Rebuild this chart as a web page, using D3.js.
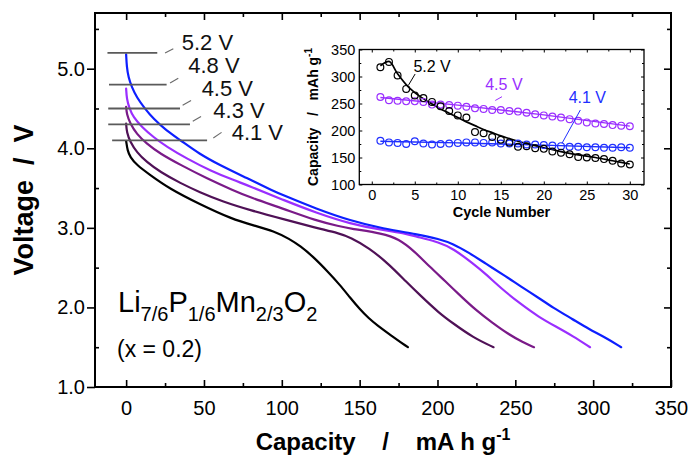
<!DOCTYPE html>
<html><head><meta charset="utf-8">
<script src="https://cdn.jsdelivr.net/npm/d3@7"></script>
<style>
html,body{margin:0;padding:0;background:#fff;}
svg{display:block;font-family:"Liberation Sans",Arial,sans-serif;}
text{white-space:pre;}
</style></head><body>
<svg id="chart" width="688" height="458"></svg>
<script>
// ---------------- DATA ----------------
// Discharge curves (capacity mA h g^-1, voltage V) for each upper cutoff voltage
const cap41 = [0, 0.9, 2.6, 6.8, 15, 28, 47, 68, 82, 95, 105, 112, 120, 130, 137, 144, 150, 156, 161, 170, 181];
const volt41 = [4.09, 3.97, 3.89, 3.79, 3.67, 3.49, 3.30, 3.11, 3.03, 2.96, 2.86, 2.77, 2.64, 2.44, 2.29, 2.12, 1.98, 1.86, 1.78, 1.65, 1.50];

const cap43 = [0, 0.4, 2.6, 6.8, 13, 22, 35, 47, 62, 80, 101, 122, 137, 144, 156, 169, 180, 189, 201, 210, 223, 236];
const volt43 = [4.31, 4.20, 4.08, 3.95, 3.83, 3.70, 3.56, 3.45, 3.33, 3.22, 3.11, 3.00, 2.93, 2.88, 2.75, 2.54, 2.32, 2.15, 1.93, 1.80, 1.62, 1.50];

const cap45 = [0, 0.4, 2.6, 6.8, 13, 22, 35, 52, 69, 80, 101, 122, 137, 144, 165, 175, 185, 195, 205, 215, 225, 235, 245, 255, 262];
const volt45 = [4.52, 4.43, 4.31, 4.18, 4.06, 3.93, 3.79, 3.62, 3.47, 3.38, 3.24, 3.09, 3.02, 2.99, 2.93, 2.86, 2.71, 2.51, 2.33, 2.14, 1.96, 1.81, 1.67, 1.56, 1.50];

const cap48 = [0, 0.4, 2.1, 4.7, 10, 17.5, 26, 39, 54, 69, 80, 101, 122, 144, 165, 180, 188, 201, 210, 223, 231, 242, 253, 265, 276, 287, 298];
const volt48 = [4.75, 4.62, 4.50, 4.39, 4.27, 4.14, 4.02, 3.87, 3.72, 3.60, 3.52, 3.35, 3.19, 3.05, 2.97, 2.93, 2.88, 2.82, 2.74, 2.55, 2.42, 2.22, 2.05, 1.88, 1.76, 1.64, 1.50];

const cap52 = [0, 0.4, 1.5, 3.6, 6.8, 12, 17.5, 26, 35, 47, 60, 77, 95, 101, 122, 144, 165, 187, 201, 210, 220, 231, 244, 253, 265, 274, 287, 297, 308, 318];
const volt52 = [5.18, 5.02, 4.89, 4.77, 4.64, 4.50, 4.37, 4.22, 4.10, 3.93, 3.79, 3.63, 3.46, 3.41, 3.24, 3.09, 2.99, 2.92, 2.86, 2.80, 2.69, 2.55, 2.39, 2.27, 2.12, 2.00, 1.85, 1.73, 1.62, 1.50];

const cutoffVoltages = [4.1, 4.3, 4.5, 4.8, 5.2];
const cutoffLabels = ["4.1 V", "4.3 V", "4.5 V", "4.8 V", "5.2 V"];

// Inset: capacity vs cycle number
const cycles = [1,2,3,4,5,6,7,8,9,10,11,12,13,14,15,16,17,18,19,20,21,22,23,24,25,26,27,28,29,30];
const cycleCap52 = [317, 327, 302, 277, 265, 260, 253, 245, 236, 228, 224, 197, 195, 188, 183, 178, 170, 171, 167, 166, 161, 159, 156, 151, 150, 149, 147, 144, 139, 137];
const cycleCap45 = [262, 256, 255, 254, 254, 253, 248, 248, 247, 246, 244, 241, 240, 238, 238, 236, 235, 233, 230, 228, 226, 224, 221, 218, 215, 213, 212, 210, 209, 208];
const cycleCap41 = [181, 178, 177, 175, 180, 176, 174, 175, 176, 177, 178, 178, 177, 178, 176, 176, 176, 174, 174, 173, 172, 171, 170, 170, 169, 169, 168, 168, 169, 168];

const fitCycle52 = [1,2,3,4,5,6,7,8,9,10,11,12,13,14,15,16,17,18,19,20,22,24,26,28,30];
const fitCap52 = [320, 328, 305, 285, 270, 259, 249, 240, 232, 224, 216, 209, 202, 196, 190, 185, 180, 176, 172, 168, 161, 155, 150, 144, 138];
const fitCycle45 = [1, 10, 20, 30];
const fitCap45 = [261, 247, 229, 208];
const fitCycle41 = [1, 10, 20, 30];
const fitCap41 = [180, 177, 173, 168];
const insetLabels = ["5.2 V", "4.5 V", "4.1 V"];

const xTicks = [0, 50, 100, 150, 200, 250, 300, 350];
const xMinor = [-25, 25, 75, 125, 175, 225, 275, 325];
const yTicks = [1, 2, 3, 4, 5];
const yMinor = [1.5, 2.5, 3.5, 4.5, 5.5];
const insetXTicks = [0, 5, 10, 15, 20, 25, 30];
const insetXMinor = [2.5, 7.5, 12.5, 17.5, 22.5, 27.5];
const insetYTicks = [100, 150, 200, 250, 300, 350];
const insetYMinor = [125, 175, 225, 275, 325];

// ---------------- DRAWING ----------------
const svg = d3.select("#chart");
const x = d3.scaleLinear([-20, 350], [95, 671]);
const y = d3.scaleLinear([1, 5.7], [387, 13]);

const colors = ["#000000", "#4f1156", "#7a1a88", "#9a2eff", "#0d1fff"];
const series = [
  {cap: cap41, v: volt41}, {cap: cap43, v: volt43}, {cap: cap45, v: volt45},
  {cap: cap48, v: volt48}, {cap: cap52, v: volt52}
];

const line = d3.line().x(d => x(d[0])).y(d => y(d[1])).curve(d3.curveBasis);
series.forEach((s, i) => {
  svg.append("path")
    .attr("d", line(s.cap.map((c, j) => [c, s.v[j]])))
    .attr("fill", "none").attr("stroke", colors[i]).attr("stroke-width", 2.2)
    .attr("stroke-linejoin", "round").attr("stroke-linecap", "round");
});

// cutoff reference lines + labels (annotation layout in data coords)
const annot = [
  {x0: -9,   x1: 52,   lx: 67.8, ly: 4.10, l0: [56, 4.13],   l1: [61.3, 4.20]},
  {x0: -11.5,x1: 41,   lx: 56,   ly: 4.38, l0: [42.8, 4.34], l1: [48.1, 4.40]},
  {x0: -11.5,x1: 34.6, lx: 48.5, ly: 4.66, l0: [36.3, 4.54], l1: [41.7, 4.60]},
  {x0: -11,  x1: 26,   lx: 39.9, ly: 4.94, l0: [28.2, 4.82], l1: [33.5, 4.88]},
  {x0: -12,  x1: 20,   lx: 35.7, ly: 5.24, l0: [25, 5.196],  l1: [30.3, 5.25]}
];
cutoffVoltages.forEach((v, i) => {
  const a = annot[i];
  svg.append("line").attr("x1", x(a.x0)).attr("x2", x(a.x1)).attr("y1", y(v)).attr("y2", y(v))
    .attr("stroke", "#5a5a5a").attr("stroke-width", 1.8);
  svg.append("line").attr("x1", x(a.l0[0])).attr("y1", y(a.l0[1])).attr("x2", x(a.l1[0])).attr("y2", y(a.l1[1]))
    .attr("stroke", "#6a6a6a").attr("stroke-width", 1.1);
  svg.append("text").attr("x", x(a.lx)).attr("y", y(a.ly)).attr("font-size", 22).attr("fill", "#111")
    .text(cutoffLabels[i]);
});

// axes
function drawAxis(gen, tx, ty) {
  const g = svg.append("g").attr("transform", `translate(${tx},${ty})`).call(gen);
  g.select(".domain").remove();
  g.selectAll("line").attr("stroke", "#000").attr("stroke-width", 1.6);
  return g;
}
const fmt1 = d3.format(".1f");
drawAxis(d3.axisBottom(x).tickValues(xTicks).tickSizeInner(-7).tickSizeOuter(0).tickPadding(14), 0, 387)
  .selectAll("text").attr("font-size", 20).attr("fill", "#000").attr("font-family", "Liberation Sans, Arial");
drawAxis(d3.axisBottom(x).tickValues(xMinor.filter(v => v > -20)).tickSizeInner(-4).tickSizeOuter(0).tickFormat(""), 0, 387);
drawAxis(d3.axisTop(x).tickValues(xTicks.filter(v => v < 350)).tickSizeInner(-7).tickSizeOuter(0).tickFormat(""), 0, 13);
drawAxis(d3.axisTop(x).tickValues(xMinor.filter(v => v > -20)).tickSizeInner(-4).tickSizeOuter(0).tickFormat(""), 0, 13);
drawAxis(d3.axisLeft(y).tickValues(yTicks).tickSizeInner(8).tickSizeOuter(0).tickPadding(2).tickFormat(fmt1), 95, 0)
  .selectAll("text").attr("font-size", 20).attr("fill", "#000").attr("font-family", "Liberation Sans, Arial");
drawAxis(d3.axisLeft(y).tickValues(yMinor).tickSizeInner(-4).tickSizeOuter(0).tickFormat(""), 95, 0);
drawAxis(d3.axisRight(y).tickValues(yTicks.filter(v => v > 1)).tickSizeInner(-7).tickSizeOuter(0).tickFormat(""), 671, 0);
drawAxis(d3.axisRight(y).tickValues(yMinor).tickSizeInner(-4).tickSizeOuter(0).tickFormat(""), 671, 0);

svg.append("rect").attr("x", 95).attr("y", 13).attr("width", 671 - 95).attr("height", 387 - 13)
  .attr("fill", "none").attr("stroke", "#000").attr("stroke-width", 2);

// axis titles
svg.append("text").attr("transform", "translate(33,200) rotate(-90)").attr("text-anchor", "middle")
  .attr("font-size", 27).attr("font-weight", "bold").text("Voltage  /  V");
const xt = svg.append("text").attr("x", 383).attr("y", 450).attr("text-anchor", "middle")
  .attr("font-size", 24).attr("font-weight", "bold");
xt.append("tspan").text("Capacity    /    mA h g");
xt.append("tspan").attr("dy", -10).attr("font-size", 16).text("-1");

// compound label
const comp = svg.append("text").attr("x", 118).attr("y", 311.5).attr("font-size", 29);
const parts = [["Li", 0], ["7/6", 1], ["P", 0], ["1/6", 1], ["Mn", 0], ["2/3", 1], ["O", 0], ["2", 1]];
let sub = false;
parts.forEach(([t, s]) => {
  const ts = comp.append("tspan").text(t);
  if (s && !sub) { ts.attr("dy", 9).attr("font-size", 20); sub = true; }
  else if (s) { ts.attr("font-size", 20); }
  else if (!s && sub) { ts.attr("dy", -9); sub = false; }
});
svg.append("text").attr("x", 117).attr("y", 357).attr("font-size", 23).text("(x = 0.2)");

// ---------------- INSET ----------------
const ix = d3.scaleLinear([-1.45, 31.65], [359.3, 644]);
const iy = d3.scaleLinear([100, 350], [184.5, 49.5]);
svg.append("rect").attr("x", 359.3).attr("y", 49.5).attr("width", 644 - 359.3).attr("height", 184.5 - 49.5)
  .attr("fill", "#fff");

function drawInsetAxis(gen, tx, ty) {
  const g = svg.append("g").attr("transform", `translate(${tx},${ty})`).call(gen);
  g.select(".domain").remove();
  g.selectAll("line").attr("stroke", "#000").attr("stroke-width", 1);
  g.selectAll("text").attr("font-size", 14.5).attr("fill", "#000").attr("font-family", "Liberation Sans, Arial");
  return g;
}
drawInsetAxis(d3.axisBottom(ix).tickValues(insetXTicks).tickSizeInner(-3).tickSizeOuter(0).tickPadding(5), 0, 184.5);
drawInsetAxis(d3.axisBottom(ix).tickValues(insetXMinor).tickSizeInner(-2).tickSizeOuter(0).tickFormat(""), 0, 184.5);
drawInsetAxis(d3.axisTop(ix).tickValues(insetXTicks).tickSizeInner(-3).tickSizeOuter(0).tickFormat(""), 0, 49.5);
drawInsetAxis(d3.axisTop(ix).tickValues(insetXMinor).tickSizeInner(-2).tickSizeOuter(0).tickFormat(""), 0, 49.5);
drawInsetAxis(d3.axisLeft(iy).tickValues(insetYTicks).tickSizeInner(-3).tickSizeOuter(0).tickPadding(4), 359.3, 0);
drawInsetAxis(d3.axisLeft(iy).tickValues(insetYMinor).tickSizeInner(-2).tickSizeOuter(0).tickFormat(""), 359.3, 0);
drawInsetAxis(d3.axisRight(iy).tickValues(insetYTicks).tickSizeInner(-3).tickSizeOuter(0).tickFormat(""), 644, 0);
drawInsetAxis(d3.axisRight(iy).tickValues(insetYMinor).tickSizeInner(-2).tickSizeOuter(0).tickFormat(""), 644, 0);

const iline = d3.line().x(d => ix(d[0])).y(d => iy(d[1])).curve(d3.curveMonotoneX);
const insetSeries = [
  {fx: fitCycle41, fy: fitCap41, pts: cycleCap41, color: "#1f2fff", w: 1.4},
  {fx: fitCycle45, fy: fitCap45, pts: cycleCap45, color: "#9a2eff", w: 1.4},
  {fx: fitCycle52, fy: fitCap52, pts: cycleCap52, color: "#000000", w: 1.7}
];
insetSeries.forEach(s => {
  svg.append("path").attr("d", iline(s.fx.map((c, j) => [c, s.fy[j]])))
    .attr("fill", "none").attr("stroke", s.color).attr("stroke-width", s.w);
});
insetSeries.forEach(s => {
  svg.append("g").selectAll("circle").data(cycles).join("circle")
    .attr("cx", d => ix(d)).attr("cy", (d, j) => iy(s.pts[j])).attr("r", 3.4)
    .attr("fill", "none").attr("stroke", s.color).attr("stroke-width", 1.2);
});

// inset annotations
const insetAnnot = [
  {lx: 4.84, ly: 308.9, l0: [4.28, 284.3], l1: [5.04, 304.6], color: "#000"},
  {lx: 13.19, ly: 275, l0: [14.36, 255.6], l1: [15.14, 262.6], color: "#9a2eff"},
  {lx: 22.89, ly: 250.4, l0: [22.12, 176.3], l1: [24.25, 238], color: "#1f2fff"}
];
insetAnnot.forEach((a, i) => {
  svg.append("line").attr("x1", ix(a.l0[0])).attr("y1", iy(a.l0[1])).attr("x2", ix(a.l1[0])).attr("y2", iy(a.l1[1]))
    .attr("stroke", a.color).attr("stroke-width", 1);
  svg.append("text").attr("x", ix(a.lx)).attr("y", iy(a.ly)).attr("font-size", 16).attr("fill", a.color)
    .text(insetLabels[i]);
});

svg.append("rect").attr("x", 359.3).attr("y", 49.5).attr("width", 644 - 359.3).attr("height", 184.5 - 49.5)
  .attr("fill", "none").attr("stroke", "#000").attr("stroke-width", 1.3);

svg.append("text").attr("x", 501.5).attr("y", 216.5).attr("text-anchor", "middle")
  .attr("font-size", 14.5).attr("font-weight", "bold").text("Cycle Number");
const iyt = svg.append("text").attr("transform", "translate(318,117) rotate(-90)").attr("text-anchor", "middle")
  .attr("font-size", 14).attr("font-weight", "bold");
iyt.append("tspan").text("Capacity   /   mAh g");
iyt.append("tspan").attr("dy", -6).attr("font-size", 10).text("-1");
</script>
</body></html>
